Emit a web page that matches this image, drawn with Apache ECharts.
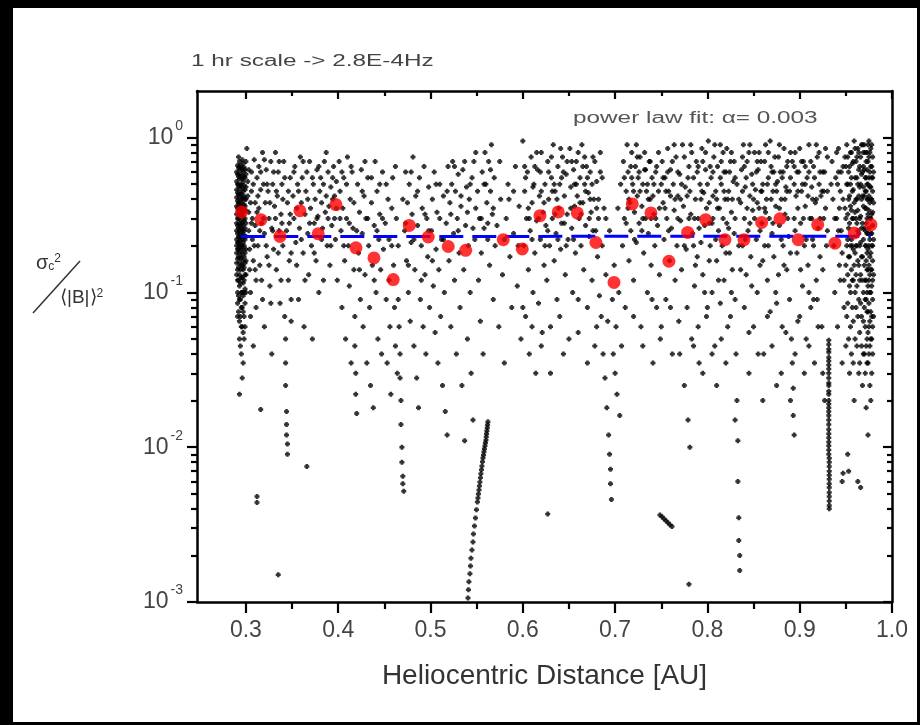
<!DOCTYPE html>
<html><head><meta charset="utf-8">
<script src="https://cdn.jsdelivr.net/npm/echarts@6/dist/echarts.min.js"></script>
<style>html,body{margin:0;padding:0;background:#000;}#c{width:920px;height:725px;}</style>
</head><body><div id="c"></div>
<script>
// ---------- axis ticks / labels ----------
const xMajorTicks = [0.3, 0.4, 0.5, 0.6, 0.7, 0.8, 0.9, 1.0];
const xMinorTicks = [0.35, 0.45, 0.55, 0.65, 0.75, 0.85, 0.95];
const yMajorTicks = [0.001, 0.01, 0.1, 1];
const yMinorTicks = [0.002,0.003,0.004,0.005,0.006,0.007,0.008,0.009,
                     0.02,0.03,0.04,0.05,0.06,0.07,0.08,0.09,
                     0.2,0.3,0.4,0.5,0.6,0.7,0.8,0.9];

// ---------- binned means (red) ----------
const binX = [0.2953,0.3163,0.3368,0.3585,0.3783,0.3975,0.4192,0.4387,0.4596,0.4770,0.4975,0.5192,0.5381,
              0.5788,0.5994,0.6186,0.6384,0.6590,0.6792,0.6988,0.7186,0.7388,0.7583,0.7786,0.7981,0.8190,
              0.8396,0.8588,0.8786,0.8984,0.9195,0.9382,0.9591,0.9772];
const binMean = [0.331,0.295,0.230,0.337,0.239,0.369,0.194,0.167,0.121,0.271,0.228,0.198,0.187,
                 0.219,0.191,0.313,0.331,0.326,0.210,0.116,0.373,0.326,0.159,0.244,0.295,0.219,
                 0.219,0.283,0.299,0.219,0.274,0.208,0.242,0.274];

// ---------- power-law fit (blue dashed) ----------
const fitX = [0.295, 0.977];
const fitY = [0.2297, 0.2305];

// ---------- individual samples (black) ----------
const ptsA = [[0.291,0.66],[0.291,0.58],[0.291,0.5],[0.291,0.44],[0.291,0.39],[0.291,0.35],[0.291,0.3],[0.291,0.27],[0.291,0.24],[0.291,0.21],[0.291,0.19],[0.291,0.165],[0.291,0.14],[0.291,0.12],[0.291,0.1],[0.291,0.085],[0.291,0.07],
[0.293,0.7],[0.293,0.62],[0.293,0.54],[0.293,0.47],[0.293,0.41],[0.293,0.37],[0.293,0.32],[0.293,0.28],[0.293,0.25],[0.293,0.225],[0.293,0.2],[0.293,0.18],[0.293,0.155],[0.293,0.13],[0.293,0.11],[0.293,0.09],[0.293,0.065],[0.293,0.05],[0.293,0.022],
[0.295,0.64],[0.295,0.56],[0.295,0.49],[0.295,0.43],[0.295,0.38],[0.295,0.34],[0.295,0.29],[0.295,0.26],[0.295,0.23],[0.295,0.2],[0.295,0.17],[0.295,0.15],[0.295,0.125],[0.295,0.1],[0.295,0.08],[0.295,0.06],[0.295,0.04],
[0.297,0.68],[0.297,0.6],[0.297,0.52],[0.297,0.45],[0.297,0.4],[0.297,0.35],[0.297,0.31],[0.297,0.27],[0.297,0.24],[0.297,0.21],[0.297,0.19],[0.297,0.16],[0.297,0.14],[0.297,0.115],[0.297,0.095],[0.297,0.075],[0.297,0.055],[0.297,0.035],
[0.299,0.62],[0.299,0.55],[0.299,0.46],[0.299,0.4],[0.299,0.36],[0.299,0.3],[0.299,0.26],[0.299,0.22],[0.299,0.18],[0.299,0.155],[0.299,0.13],[0.299,0.105],[0.299,0.085],[0.299,0.06]];

const ptsA2 = [[0.290,0.6],[0.290,0.52],[0.290,0.46],[0.290,0.41],[0.290,0.36],[0.290,0.32],[0.290,0.28],[0.290,0.25],[0.290,0.22],[0.290,0.2],[0.290,0.18],[0.290,0.155],[0.290,0.13],
[0.292,0.75],[0.292,0.64],[0.292,0.56],[0.292,0.49],[0.292,0.43],[0.292,0.38],[0.292,0.34],[0.292,0.3],[0.292,0.26],[0.292,0.23],[0.292,0.21],[0.292,0.19],[0.292,0.17],[0.292,0.145],[0.292,0.12],[0.292,0.095],[0.292,0.075],
[0.294,0.66],[0.294,0.58],[0.294,0.5],[0.294,0.44],[0.294,0.39],[0.294,0.35],[0.294,0.31],[0.294,0.27],[0.294,0.24],[0.294,0.215],[0.294,0.19],[0.294,0.165],[0.294,0.14],[0.294,0.115],[0.294,0.09],[0.294,0.07],[0.294,0.045],
[0.296,0.72],[0.296,0.62],[0.296,0.54],[0.296,0.47],[0.296,0.41],[0.296,0.36],[0.296,0.32],[0.296,0.28],[0.296,0.25],[0.296,0.22],[0.296,0.2],[0.296,0.18],[0.296,0.15],[0.296,0.125],[0.296,0.1],[0.296,0.08],[0.296,0.06],[0.296,0.028],
[0.298,0.64],[0.298,0.56],[0.298,0.49],[0.298,0.42],[0.298,0.37],[0.298,0.33],[0.298,0.29],[0.298,0.25],[0.298,0.23],[0.298,0.2],[0.298,0.17],[0.298,0.145],[0.298,0.12],[0.298,0.1],[0.298,0.07],[0.298,0.05],
[0.300,0.7],[0.300,0.58],[0.300,0.48],[0.300,0.4],[0.300,0.34],[0.300,0.28],[0.300,0.23],[0.300,0.19],[0.300,0.16],[0.300,0.13],[0.300,0.1]];

const ptsB = [[0.301,0.85],[0.302,0.52],[0.302,0.42],[0.303,0.33],[0.303,0.25],[0.304,0.19],[0.304,0.14],[0.305,0.1],[0.305,0.07],[0.306,0.6],[0.306,0.45],[0.307,0.3],[0.307,0.22],[0.308,0.16],[0.308,0.045],[0.309,0.72],[0.31,0.38],[0.31,0.27],[0.311,0.12],[0.311,0.08],[0.312,0.55],[0.312,0.0048],[0.312,0.0044],[0.313,0.2],[0.314,0.35],[0.314,0.65],[0.315,0.15],[0.316,0.46],[0.316,0.0175],[0.317,0.28],[0.318,0.8],[0.318,0.09],[0.319,0.5],[0.32,0.24],[0.32,0.06],[0.321,0.38],[0.322,0.62],[0.323,0.17],[0.324,0.45],[0.325,0.3],[0.326,0.11],[0.327,0.7],[0.328,0.26],[0.328,0.04],[0.329,0.5],[0.33,0.19],[0.331,0.36],[0.332,0.8],[0.333,0.14],[0.334,0.42],[0.335,0.0015],[0.335,0.6],[0.336,0.25],[0.337,0.085],[0.338,0.32],[0.339,0.5],[0.34,0.2],[0.341,0.7],[0.342,0.07],[0.343,0.05],[0.343,0.035],[0.343,0.025],[0.344,0.017],[0.344,0.014],[0.344,0.012],[0.345,0.0105],[0.345,0.009],[0.345,0.38],[0.346,0.12],[0.347,0.28],[0.348,0.55],[0.349,0.18],[0.349,0.065]];

const ptsB2 = [[0.303,0.62],[0.305,0.38],[0.306,0.28],[0.308,0.5],[0.309,0.2],[0.31,0.14],[0.312,0.33],[0.313,0.42],[0.315,0.25],[0.316,0.6],[0.317,0.12],[0.319,0.3],[0.32,0.72],[0.322,0.2],[0.323,0.5],[0.325,0.15],[0.326,0.38],[0.327,0.085],[0.329,0.25],[0.33,0.6],[0.332,0.3],[0.333,0.45],[0.335,0.18],[0.336,0.7],[0.338,0.12],[0.339,0.28],[0.34,0.4],[0.342,0.55],[0.344,0.25],[0.346,0.45],[0.347,0.16],[0.348,0.32],[0.349,0.09]];

const ptsC = [[0.351,0.42],[0.352,0.3],[0.353,0.65],[0.354,0.21],[0.355,0.15],[0.356,0.5],[0.357,0.09],[0.358,0.26],[0.359,0.75],[0.36,0.38],[0.361,0.55],[0.362,0.18],[0.363,0.06],[0.364,0.32],[0.365,0.45],[0.366,0.0075],[0.366,0.6],[0.367,0.24],[0.368,0.13],[0.369,0.7],[0.37,0.35],[0.371,0.2],[0.372,0.05],[0.373,0.5],[0.374,0.28],[0.375,0.4],[0.376,0.16],[0.377,0.62],[0.378,0.31],[0.379,0.1],[0.38,0.45],[0.381,0.55],[0.382,0.38],[0.383,0.26],[0.384,0.5],[0.385,0.7],[0.386,0.33],[0.387,0.42],[0.388,0.2],[0.389,0.6],[0.39,0.36],[0.391,0.15],[0.392,0.48],[0.393,0.27],[0.394,0.4],[0.395,0.65],[0.396,0.3],[0.397,0.22],[0.398,0.52],[0.399,0.12],
[0.401,0.7],[0.402,0.45],[0.403,0.25],[0.404,0.08],[0.405,0.35],[0.406,0.55],[0.407,0.16],[0.408,0.05],[0.409,0.3],[0.41,0.75],[0.411,0.2],[0.412,0.11],[0.413,0.4],[0.414,0.035],[0.415,0.6],[0.416,0.26],[0.417,0.14],[0.418,0.07],[0.418,0.045],[0.419,0.03],[0.419,0.022],[0.42,0.0165],[0.421,0.5],[0.422,0.18],[0.423,0.33],[0.424,0.09],[0.425,0.62],[0.426,0.24],[0.427,0.06],[0.428,0.42],[0.429,0.13],[0.43,0.3],[0.431,0.035],[0.432,0.55],[0.433,0.2],[0.434,0.08],[0.435,0.025],[0.436,0.38],[0.437,0.15],[0.438,0.018],[0.439,0.27],[0.44,0.7],[0.441,0.1],[0.442,0.45],[0.443,0.05],[0.444,0.22],[0.445,0.32],[0.446,0.14],[0.447,0.04],[0.448,0.6],[0.449,0.19]];

const ptsD = [[0.451,0.28],[0.452,0.09],[0.453,0.035],[0.454,0.4],[0.455,0.12],[0.456,0.06],[0.457,0.022],[0.458,0.2],[0.459,0.55],[0.46,0.15],[0.461,0.08],[0.462,0.045],[0.463,0.3],[0.464,0.03],[0.465,0.09],[0.466,0.06],[0.467,0.04],[0.467,0.028],[0.468,0.02],[0.468,0.014],[0.469,0.01],[0.469,0.008],[0.47,0.0065],[0.47,0.0058],[0.471,0.0052],[0.472,0.25],[0.473,0.6],[0.474,0.16],[0.475,0.38],[0.476,0.1],[0.477,0.5],[0.478,0.065],[0.479,0.21],[0.48,0.32],[0.481,0.75],[0.482,0.045],[0.483,0.14],[0.484,0.42],[0.485,0.028],[0.486,0.27],[0.487,0.018],[0.488,0.55],[0.489,0.09],[0.49,0.2],[0.491,0.35],[0.492,0.06],[0.493,0.65],[0.494,0.13],[0.495,0.04],[0.496,0.3],[0.497,0.17],[0.498,0.48],[0.499,0.08],
[0.501,0.25],[0.502,0.4],[0.503,0.11],[0.504,0.6],[0.505,0.055],[0.506,0.19],[0.507,0.33],[0.508,0.035],[0.509,0.14],[0.51,0.5],[0.511,0.07],[0.512,0.22],[0.513,0.025],[0.514,0.42],[0.515,0.1],[0.516,0.017],[0.517,0.28],[0.518,0.012],[0.519,0.65],[0.52,0.16],[0.521,0.38],[0.522,0.06],[0.523,0.5],[0.524,0.7],[0.525,0.24],[0.526,0.12],[0.527,0.45],[0.528,0.04],[0.529,0.3],[0.53,0.58],[0.531,0.18],[0.532,0.08],[0.533,0.36],[0.534,0.025],[0.535,0.62],[0.536,0.14],[0.537,0.011],[0.538,0.27],[0.539,0.48],[0.54,0.05],[0.541,0.2],[0.542,0.4],[0.543,0.1],[0.544,0.03],[0.545,0.55],[0.546,0.015],[0.547,0.7],[0.548,0.22],[0.549,0.35]];

const ptsCurve = [[0.5406,0.00106],[0.5411,0.0012],[0.5416,0.00135],[0.5427,0.00152],[0.5433,0.00171],[0.5438,0.00192],[0.5449,0.00217],[0.546,0.00244],[0.5465,0.00275],[0.5476,0.0031],[0.5487,0.00349],[0.5498,0.00394],[0.5508,0.00443],[0.5514,0.0047],[0.5519,0.00499],[0.5525,0.0053],[0.553,0.00562],[0.5535,0.00597],[0.5541,0.00634],[0.5546,0.00673],[0.5552,0.00714],[0.5557,0.00757],[0.5563,0.00804],[0.5568,0.00853],[0.5574,0.00892],[0.5579,0.00933],[0.5584,0.00976],[0.559,0.0102],[0.5595,0.01067],[0.5601,0.01115],[0.5604,0.01166],[0.5607,0.0122],[0.5611,0.01276],[0.5615,0.01334],[0.5618,0.01394],[0.5622,0.01458]];

const ptsE = [[0.551,0.45],[0.552,0.12],[0.553,0.3],[0.554,0.065],[0.555,0.18],[0.556,0.6],[0.557,0.04],[0.558,0.26],[0.559,0.8],[0.56,0.5],[0.561,0.38],[0.562,0.22],[0.563,0.7],[0.564,0.15],[0.565,0.45],[0.566,0.9],[0.567,0.32],[0.568,0.09],[0.569,0.55],[0.57,0.2],[0.572,0.27],[0.574,0.06],[0.576,0.4],[0.578,0.13],[0.58,0.035],[0.582,0.3],[0.584,0.5],[0.586,0.17],[0.588,0.08],[0.59,0.24],[0.592,0.65],[0.594,0.11],[0.596,0.36],[0.598,0.05],[0.6,0.95],[0.601,0.2],[0.602,0.45],[0.603,0.07],[0.604,0.3],[0.605,0.6],[0.606,0.14],[0.607,0.04],[0.608,0.25],[0.609,0.75],[0.61,0.38],[0.611,0.1],[0.612,0.5],[0.613,0.18],[0.614,0.03],[0.615,0.29],[0.616,0.62],[0.617,0.085],[0.618,0.42],[0.619,0.22],[0.62,0.8],[0.621,0.055],[0.622,0.33],[0.623,0.15],[0.624,0.5],[0.625,0.27],[0.626,0.12],[0.627,0.0037],[0.627,0.7],[0.628,0.4],[0.629,0.2],[0.63,0.06],[0.631,0.55],[0.632,0.3],[0.633,0.9],[0.634,0.16],[0.635,0.45],[0.636,0.24],[0.637,0.09],[0.638,0.65],[0.639,0.35],[0.64,0.5],[0.641,0.19],[0.642,0.28],[0.643,0.75],[0.644,0.04],[0.645,0.42],[0.646,0.13],[0.647,0.58],[0.648,0.32],[0.649,0.22]];

const ptsF = [[0.651,0.85],[0.652,0.48],[0.653,0.26],[0.654,0.1],[0.655,0.62],[0.656,0.36],[0.657,0.18],[0.658,0.7],[0.659,0.42],[0.66,0.055],[0.661,0.3],[0.662,0.55],[0.663,0.2],[0.664,0.9],[0.665,0.38],[0.666,0.14],[0.667,0.5],[0.668,0.27],[0.669,0.65],[0.67,0.08],[0.671,0.44],[0.672,0.23],[0.673,0.6],[0.674,0.33],[0.675,0.12],[0.676,0.75],[0.677,0.4],[0.678,0.045],[0.679,0.25],[0.68,0.52],[0.681,0.17],[0.682,0.3],[0.683,0.095],[0.684,0.6],[0.685,0.07],[0.686,0.2],[0.687,0.04],[0.688,0.35],[0.689,0.028],[0.69,0.13],[0.691,0.018],[0.692,0.065],[0.693,0.012],[0.694,0.25],[0.694,0.009],[0.695,0.0072],[0.695,0.0058],[0.696,0.0046],[0.697,0.09],[0.698,0.04],[0.699,0.15],[0.7,0.03],[0.701,0.06],[0.702,0.022],[0.703,0.35],[0.704,0.1],[0.705,0.016],[0.706,0.5],[0.707,0.045],[0.708,0.2],[0.709,0.7],[0.71,0.3],[0.711,0.08],[0.712,0.45],[0.713,0.9],[0.714,0.6],[0.715,0.16],[0.716,0.38],[0.717,0.25],[0.718,0.8],[0.719,0.5],[0.72,0.12],[0.721,0.33],[0.722,0.65],[0.723,0.21],[0.724,0.42],[0.725,0.55],[0.726,0.28],[0.727,0.75],[0.728,0.06],[0.729,0.36],[0.73,0.5],[0.731,0.18],[0.732,0.62],[0.733,0.3],[0.734,0.45],[0.735,0.1],[0.736,0.24],[0.737,0.7],[0.738,0.4],[0.739,0.15],[0.74,0.55],[0.741,0.035],[0.742,0.32],[0.743,0.2],[0.744,0.6],[0.745,0.08],[0.746,0.27],[0.747,0.45],[0.748,0.13],[0.749,0.05]];

const ptsM2 = [[0.352,0.6],[0.355,0.35],[0.357,0.45],[0.36,0.22],[0.362,0.7],[0.364,0.12],[0.367,0.4],[0.369,0.28],[0.372,0.55],[0.374,0.18],[0.377,0.3],[0.379,0.65],[0.382,0.22],[0.384,0.12],[0.387,0.8],[0.389,0.3],[0.392,0.2],[0.394,0.55],[0.396,0.42],[0.398,0.35],[0.402,0.3],[0.404,0.6],[0.406,0.2],[0.409,0.5],[0.412,0.28],[0.414,0.65],[0.417,0.38],[0.42,0.25],[0.423,0.14],[0.426,0.45],[0.429,0.7],[0.432,0.3],[0.436,0.55],[0.439,0.12],[0.442,0.25],[0.445,0.5],[0.448,0.3],
[0.452,0.5],[0.455,0.22],[0.458,0.35],[0.462,0.65],[0.465,0.2],[0.47,0.4],[0.473,0.28],[0.476,0.15],[0.479,0.6],[0.482,0.22],[0.486,0.45],[0.49,0.12],[0.494,0.32],[0.498,0.25],[0.502,0.16],[0.506,0.5],[0.51,0.3],[0.514,0.22],[0.518,0.45],[0.522,0.32],[0.526,0.65],[0.53,0.25],[0.533,0.42],[0.537,0.7],[0.54,0.33],[0.543,0.5],[0.546,0.26],[0.549,0.8],
[0.555,0.3],[0.558,0.5],[0.562,0.28],[0.565,0.62],[0.568,0.35],[0.575,0.7],[0.58,0.22],[0.585,0.4],[0.59,0.45],[0.595,0.2],[0.603,0.55],[0.606,0.35],[0.61,0.22],[0.613,0.65],[0.617,0.3],[0.62,0.45],[0.624,0.2],[0.628,0.6],[0.632,0.45],[0.635,0.32],[0.638,0.22],[0.642,0.55],[0.645,0.28],[0.648,0.7],
[0.652,0.35],[0.655,0.22],[0.658,0.5],[0.662,0.38],[0.665,0.65],[0.668,0.45],[0.672,0.3],[0.675,0.5],[0.678,0.7],[0.682,0.4],[0.686,0.55],[0.69,0.3],[0.712,0.28],[0.715,0.4],[0.718,0.55],[0.721,0.22],[0.724,0.75],[0.727,0.45],[0.73,0.3],[0.733,0.62],[0.736,0.4],[0.739,0.3],[0.742,0.5],[0.745,0.65],[0.748,0.35],
[0.752,0.55],[0.755,0.45],[0.758,0.25],[0.762,0.7],[0.765,0.4],[0.768,0.3],[0.772,0.5],[0.775,0.2],[0.778,0.42],[0.78,0.3]];

const ptsChain = [[0.7486,0.00365],[0.7508,0.00355],[0.7529,0.00345],[0.7551,0.00335],[0.7573,0.00325],[0.7594,0.00316],[0.7616,0.00307]];

const ptsG = [[0.751,0.7],[0.752,0.38],[0.753,0.22],[0.754,0.55],[0.755,0.09],[0.756,0.3],[0.757,0.85],[0.758,0.45],[0.759,0.16],[0.76,0.62],[0.761,0.26],[0.762,0.04],[0.763,0.5],[0.764,0.34],[0.765,0.12],[0.766,0.75],[0.767,0.2],[0.768,0.42],[0.769,0.065],[0.77,0.58],[0.771,0.29],[0.772,0.14],[0.773,0.9],[0.774,0.36],[0.775,0.025],[0.776,0.48],[0.777,0.19],[0.778,0.08],[0.779,0.015],[0.78,0.0013],[0.78,0.65],[0.781,0.01],[0.782,0.32],[0.783,0.05],[0.784,0.24],[0.785,0.55],[0.786,0.11],[0.787,0.4],[0.788,0.7],[0.789,0.17],[0.79,0.3],[0.791,0.035],[0.792,0.5],[0.793,0.21],[0.794,0.85],[0.795,0.13],[0.796,0.44],[0.797,0.27],[0.798,0.62],[0.799,0.07],
[0.801,0.95],[0.802,0.38],[0.803,0.2],[0.804,0.55],[0.805,0.1],[0.806,0.3],[0.807,0.75],[0.808,0.045],[0.809,0.45],[0.81,0.16],[0.811,0.65],[0.812,0.25],[0.813,0.35],[0.814,0.085],[0.815,0.5],[0.816,0.2],[0.817,0.8],[0.818,0.12],[0.819,0.4],[0.82,0.6],[0.821,0.28],[0.822,0.06],[0.823,0.45],[0.824,0.18],[0.825,0.7],[0.826,0.33],[0.827,0.14],[0.828,0.52],[0.829,0.24],[0.83,0.09],[0.831,0.04],[0.832,0.02],[0.833,0.011],[0.833,0.006],[0.834,0.0035],[0.834,0.0025],[0.835,0.002],[0.835,0.0016],[0.836,0.38],[0.837,0.62],[0.838,0.2],[0.839,0.9],[0.84,0.3],[0.841,0.48],[0.842,0.13],[0.843,0.7],[0.844,0.25],[0.845,0.055],[0.846,0.42],[0.847,0.17],[0.848,0.58],[0.849,0.34]];

const ptsG2 = [[0.781,0.45],[0.783,0.8],[0.785,0.2],[0.787,0.15],[0.789,0.6],[0.791,0.26],[0.793,0.4],[0.795,0.7],[0.797,0.1],[0.799,0.35],[0.8,0.5],[0.802,0.16],[0.803,0.65],[0.805,0.28],[0.806,0.42],[0.808,0.9],[0.809,0.22],[0.811,0.35],[0.812,0.12],[0.814,0.55],[0.815,0.7],[0.817,0.3],[0.818,0.45],[0.82,0.18],[0.821,0.85],[0.823,0.26],[0.824,0.6],[0.826,0.1],[0.827,0.4],[0.829,0.7],[0.83,0.3],[0.832,0.5],[0.834,0.2],[0.836,0.14],[0.838,0.45],[0.84,0.65],[0.841,0.22],[0.843,0.35],[0.845,0.8],[0.846,0.28],[0.848,0.11],[0.849,0.5]];

const ptsH = [[0.851,0.8],[0.852,0.46],[0.853,0.22],[0.854,0.1],[0.855,0.62],[0.856,0.35],[0.857,0.15],[0.858,0.7],[0.859,0.28],[0.86,0.5],[0.861,0.04],[0.862,0.2],[0.863,0.9],[0.864,0.4],[0.865,0.12],[0.866,0.55],[0.867,0.3],[0.868,0.075],[0.869,0.65],[0.87,0.24],[0.871,0.45],[0.872,0.17],[0.873,0.75],[0.874,0.36],[0.875,0.025],[0.876,0.52],[0.877,0.13],[0.878,0.27],[0.879,0.6],[0.88,0.4],[0.881,0.06],[0.882,0.2],[0.883,0.85],[0.884,0.32],[0.885,0.48],[0.886,0.14],[0.887,0.7],[0.888,0.23],[0.889,0.09],[0.89,0.55],[0.891,0.05],[0.892,0.035],[0.893,0.024],[0.893,0.016],[0.894,0.012],[0.894,0.3],[0.895,0.8],[0.896,0.42],[0.897,0.18],[0.898,0.065],[0.899,0.6],
[0.901,0.28],[0.902,0.45],[0.903,0.11],[0.904,0.7],[0.905,0.2],[0.906,0.36],[0.907,0.05],[0.908,0.55],[0.909,0.15],[0.91,0.9],[0.911,0.3],[0.912,0.08],[0.913,0.48],[0.914,0.22],[0.915,0.65],[0.916,0.035],[0.917,0.38],[0.918,0.12],[0.919,0.75],[0.92,0.26],[0.921,0.5],[0.922,0.17],[0.923,0.42],[0.924,0.06],[0.925,0.6],[0.926,0.3],[0.927,0.02],[0.928,0.85],[0.929,0.2],[0.93,0.45]];

const ptsH2 = [[0.851,0.3],[0.853,0.6],[0.854,0.38],[0.856,0.8],[0.857,0.25],[0.859,0.45],[0.86,0.16],[0.862,0.7],[0.863,0.33],[0.865,0.5],[0.866,0.2],[0.868,0.95],[0.869,0.4],[0.871,0.28],[0.872,0.6],[0.874,0.1],[0.875,0.45],[0.877,0.75],[0.878,0.35],[0.88,0.22],[0.881,0.55],[0.883,0.15],[0.884,0.4],[0.886,0.65],[0.887,0.3],[0.889,0.45],[0.89,0.18],[0.892,0.7],[0.894,0.5],[0.895,0.25],[0.897,0.6],[0.898,0.35],[0.9,0.85],[0.901,0.14],[0.903,0.5],[0.904,0.3],[0.906,0.65],[0.907,0.22],[0.909,0.42],[0.91,0.1],[0.912,0.7],[0.913,0.3],[0.915,0.2],[0.916,0.55],[0.918,0.4],[0.919,0.09],[0.921,0.8],[0.922,0.3],[0.924,0.45],[0.925,0.14],[0.927,0.6],[0.928,0.35],[0.93,0.25]];

const ptsLow = [[0.785,0.045],[0.79,0.06],[0.795,0.03],[0.8,0.08],[0.805,0.04],[0.81,0.025],[0.815,0.05],[0.82,0.035],[0.825,0.07],[0.83,0.015],[0.84,0.08],[0.845,0.03],[0.85,0.06],[0.855,0.04],[0.86,0.02],[0.865,0.07],[0.87,0.045],[0.875,0.085],[0.88,0.03],[0.885,0.055],[0.89,0.02],[0.895,0.04],[0.9,0.07],[0.905,0.03],[0.91,0.045],[0.915,0.09],[0.92,0.06],[0.925,0.03],[0.6,0.08],[0.61,0.06],[0.62,0.045],[0.63,0.03],[0.64,0.07],[0.65,0.05],[0.66,0.09],[0.67,0.035],[0.68,0.06],[0.72,0.07],[0.73,0.045],[0.74,0.09],[0.75,0.06],[0.76,0.08],[0.77,0.04]];

const ptsTop = [[0.602,0.65],[0.607,0.3],[0.611,0.48],[0.615,0.8],[0.619,0.6],[0.623,0.38],[0.627,0.25],[0.631,0.75],[0.634,0.5],[0.637,0.4],[0.641,0.85],[0.644,0.6],[0.647,0.2],[0.653,0.7],[0.656,0.5],[0.66,0.8],[0.663,0.32],[0.667,0.75],[0.67,0.55],[0.673,0.4],[0.676,0.25],[0.68,0.35],[0.684,0.8],[0.71,0.55],[0.714,0.35],[0.717,0.65],[0.72,0.45],[0.723,0.9],[0.726,0.6],[0.729,0.25],[0.732,0.8],[0.735,0.5],[0.738,0.7],[0.741,0.42],[0.744,0.3],[0.747,0.8],[0.75,0.5],[0.754,0.35],[0.757,0.6],[0.76,0.42],[0.764,0.9],[0.768,0.6],[0.771,0.4],[0.775,0.75],[0.779,0.55],[0.782,0.9],[0.786,0.3],[0.79,0.65],[0.794,0.45],[0.798,0.8],[0.802,0.28],[0.806,0.6],[0.81,0.4],[0.814,0.9],[0.818,0.6],[0.822,0.4],[0.826,0.8],[0.83,0.55],[0.834,0.4],[0.838,0.75],[0.842,0.55],[0.846,0.9],[0.85,0.4],[0.854,0.7],[0.858,0.45],[0.862,0.35],[0.866,0.8],[0.87,0.6],[0.874,0.5],[0.878,0.9],[0.882,0.6],[0.886,0.45],[0.89,0.8],[0.894,0.65],[0.898,0.45],[0.902,0.7],[0.906,0.5],[0.91,0.6],[0.914,0.4],[0.918,0.9],[0.922,0.6],[0.926,0.45],[0.93,0.75],[0.934,0.5],[0.938,0.3],[0.942,0.6]];

const ptsLine = [[0.9315,0.049],[0.9315,0.046],[0.9315,0.043],[0.9315,0.041],[0.9315,0.038],[0.9315,0.036],[0.9315,0.034],[0.9315,0.032],[0.9315,0.03],[0.9315,0.028],[0.9315,0.026],[0.9315,0.025],[0.9315,0.023],[0.9315,0.022],[0.9315,0.02],[0.9315,0.019],[0.9315,0.018],[0.9315,0.017],[0.9315,0.016],[0.9315,0.015],[0.9315,0.014],[0.9315,0.013],[0.9315,0.0122],[0.9315,0.0115],[0.9315,0.0108],[0.9315,0.0102],[0.9315,0.0096],[0.9315,0.009],[0.932,0.0085],[0.932,0.008],[0.932,0.0075],[0.932,0.007],[0.932,0.0066],[0.932,0.0062],[0.932,0.0058],[0.932,0.0055],[0.932,0.0051],[0.932,0.0048],[0.932,0.0045],[0.932,0.0042],[0.932,0.004]];

const ptsI = [[0.935,0.7],[0.936,0.4],[0.937,0.2],[0.938,0.1],[0.939,0.55],[0.94,0.3],[0.941,0.06],[0.942,0.85],[0.943,0.15],[0.944,0.45],[0.945,0.25],[0.946,0.035],[0.947,0.65],[0.948,0.12],[0.949,0.35],
[0.951,0.9],[0.951,0.5],[0.951,0.2],[0.951,0.07],[0.952,0.75],[0.952,0.32],[0.952,0.13],[0.952,0.009],[0.953,0.6],[0.953,0.26],[0.953,0.05],[0.953,0.007],[0.954,0.42],[0.954,0.17],[0.954,0.03],[0.955,0.8],[0.955,0.36],[0.955,0.1],[0.956,0.55],[0.956,0.22],[0.956,0.04],[0.957,0.68],[0.957,0.3],[0.957,0.12],[0.958,0.46],[0.958,0.19],[0.958,0.065],[0.959,0.95],[0.959,0.38],[0.959,0.15],[0.959,0.02],
[0.961,0.7],[0.961,0.4],[0.961,0.2],[0.961,0.08],[0.962,0.55],[0.962,0.28],[0.962,0.11],[0.962,0.045],[0.963,0.85],[0.963,0.34],[0.963,0.16],[0.963,0.006],[0.964,0.62],[0.964,0.24],[0.964,0.09],[0.964,0.03],[0.965,0.48],[0.965,0.2],[0.965,0.055],[0.966,0.75],[0.966,0.31],[0.966,0.13],[0.966,0.0055],[0.967,0.58],[0.967,0.26],[0.967,0.07],[0.968,0.9],[0.968,0.42],[0.968,0.17],[0.968,0.025],[0.969,0.65],[0.969,0.36],[0.969,0.1],[0.969,0.04],
[0.971,0.8],[0.971,0.55],[0.971,0.35],[0.971,0.2],[0.971,0.12],[0.971,0.06],[0.971,0.03],[0.972,0.7],[0.972,0.45],[0.972,0.28],[0.972,0.16],[0.972,0.09],[0.972,0.045],[0.972,0.018],[0.973,0.62],[0.973,0.4],[0.973,0.24],[0.973,0.14],[0.973,0.075],[0.973,0.035],[0.974,0.9],[0.974,0.5],[0.974,0.32],[0.974,0.19],[0.974,0.11],[0.974,0.055],[0.974,0.012],[0.975,0.75],[0.975,0.42],[0.975,0.26],[0.975,0.15],[0.975,0.085],[0.975,0.04],[0.976,0.6],[0.976,0.38],[0.976,0.22],[0.976,0.13],[0.976,0.065],[0.976,0.025],[0.977,0.85],[0.977,0.48],[0.977,0.3],[0.977,0.18],[0.977,0.1],[0.977,0.05],[0.978,0.65],[0.978,0.4],[0.978,0.24],[0.978,0.14],[0.978,0.07],[0.978,0.03],[0.979,0.55],[0.979,0.33],[0.979,0.2],[0.979,0.12],[0.979,0.06]];

const ptsI2 = [[0.94,0.8],[0.941,0.5],[0.942,0.25],[0.943,0.35],[0.944,0.12],[0.945,0.6],[0.946,0.18],[0.947,0.4],[0.948,0.08],[0.949,0.75],[0.946,0.006],[0.947,0.0068],
[0.950,0.65],[0.950,0.3],[0.950,0.15],[0.950,0.045],[0.952,0.5],[0.952,0.22],[0.952,0.085],[0.953,0.4],[0.953,0.17],[0.954,0.65],[0.954,0.28],[0.954,0.11],[0.955,0.5],[0.955,0.2],[0.955,0.06],[0.956,0.8],[0.956,0.34],[0.956,0.14],[0.957,0.45],[0.957,0.2],[0.957,0.08],[0.958,0.7],[0.958,0.3],[0.958,0.12],[0.958,0.035],
[0.96,0.85],[0.96,0.55],[0.96,0.33],[0.96,0.18],[0.96,0.1],[0.96,0.05],[0.961,0.3],[0.961,0.13],[0.962,0.75],[0.962,0.4],[0.962,0.2],[0.963,0.5],[0.963,0.25],[0.963,0.07],[0.964,0.8],[0.964,0.42],[0.964,0.15],[0.965,0.65],[0.965,0.3],[0.965,0.12],[0.965,0.035],[0.966,0.5],[0.966,0.21],[0.966,0.085],[0.967,0.9],[0.967,0.4],[0.967,0.17],[0.967,0.045],[0.968,0.6],[0.968,0.28],[0.968,0.12],[0.969,0.8],[0.969,0.48],[0.969,0.22],[0.969,0.065],
[0.970,0.9],[0.970,0.62],[0.970,0.42],[0.970,0.26],[0.970,0.15],[0.970,0.08],[0.970,0.04],[0.971,0.45],[0.971,0.25],[0.971,0.09],[0.972,0.55],[0.972,0.35],[0.972,0.2],[0.972,0.12],[0.973,0.8],[0.973,0.5],[0.973,0.3],[0.973,0.18],[0.973,0.1],[0.973,0.05],[0.974,0.7],[0.974,0.4],[0.974,0.24],[0.974,0.14],[0.974,0.075],[0.974,0.035],[0.975,0.95],[0.975,0.55],[0.975,0.34],[0.975,0.2],[0.975,0.12],[0.975,0.06],[0.976,0.8],[0.976,0.48],[0.976,0.3],[0.976,0.17],[0.976,0.1],[0.976,0.045],[0.977,0.65],[0.977,0.4],[0.977,0.24],[0.977,0.14],[0.977,0.075],[0.977,0.02],[0.978,0.9],[0.978,0.55],[0.978,0.32],[0.978,0.2],[0.978,0.11],[0.978,0.05],[0.979,0.75],[0.979,0.45],[0.979,0.27],[0.979,0.16],[0.979,0.09],[0.979,0.04],[0.98,0.6],[0.98,0.38],[0.98,0.22],[0.98,0.13],[0.98,0.07]];

// ---------- build ----------
const FONT = 'Liberation Sans, Arial, sans-serif';
const samples = [].concat(ptsA, ptsA2, ptsB, ptsB2, ptsC, ptsD, ptsM2, ptsCurve, ptsE, ptsF, ptsChain,
                          ptsG, ptsG2, ptsH, ptsH2, ptsLow, ptsTop, ptsLine, ptsI, ptsI2);
const redData = binX.map((x, i) => [x, binMean[i]]);
const fitData = fitX.map((x, i) => [x, fitY[i]]);

const X_MIN = 0.247, X_MAX = 1.0, Y_MIN = 0.001, Y_MAX = 2;
const AX = {color: '#000', width: 2.5};

function xAx(pos, ticks, len, inside, withLine, withLabel) {
  return {
    type: 'value', min: X_MIN, max: X_MAX, position: pos,
    splitLine: {show: false},
    axisLine: {show: withLine, onZero: false, lineStyle: AX},
    axisTick: {show: true, customValues: ticks, length: len, inside: inside, lineStyle: {color: '#000', width: 2.2}},
    axisLabel: withLabel ? {customValues: ticks, formatter: v => v.toFixed(1), fontSize: 23, color: '#444', fontFamily: FONT, margin: 17}
                         : {show: false}
  };
}
function yAx(pos, ticks, len, inside, withLine, withLabel) {
  return {
    type: 'log', logBase: 10, min: Y_MIN, max: Y_MAX, position: pos,
    splitLine: {show: false}, minorTick: {show: false},
    axisLine: {show: withLine, onZero: false, lineStyle: AX},
    axisTick: {show: true, customValues: ticks, length: len, inside: inside, lineStyle: {color: '#000', width: 2.2}},
    axisLabel: withLabel ? {
      customValues: ticks, margin: 14,
      formatter: v => '{b|10}{s|' + Math.round(Math.log10(v)) + '}',
      rich: {
        b: {fontSize: 23, color: '#444', fontFamily: FONT, padding: [7, 0, 7, 0], verticalAlign: 'middle'},
        s: {fontSize: 14, color: '#444', fontFamily: FONT, verticalAlign: 'top', padding: [0, 0, 0, 2]}
      }
    } : {show: false}
  };
}

const xAxes = [
  Object.assign(xAx('bottom', xMajorTicks, 11, false, true, true), {
    name: 'Heliocentric Distance [AU]', nameLocation: 'middle', nameGap: 60,
    nameTextStyle: {fontSize: 28, color: '#333', fontFamily: FONT}
  }),
  xAx('bottom', xMinorTicks, 7, false, false, false),
  xAx('top', xMajorTicks, 8, true, true, false),
  xAx('top', xMinorTicks, 5, true, false, false)
];
const yAxes = [
  yAx('left', yMajorTicks, 10, false, true, true),
  yAx('left', yMinorTicks, 6, false, false, false),
  yAx('right', yMajorTicks, 9, true, true, false),
  yAx('right', yMinorTicks, 5, true, false, false)
];

const chart = echarts.init(document.getElementById('c'), null, {renderer: 'canvas'});
chart.setOption({
  backgroundColor: '#000',
  animation: false,
  grid: {left: 197, right: 28, top: 91, bottom: 123, containLabel: false, outerBoundsMode: 'none'},
  xAxis: xAxes,
  yAxis: yAxes,
  graphic: [
    {type: 'rect', z: -10, silent: true, shape: {x: 13, y: 8, width: 904, height: 714}, style: {fill: '#fff'}},
    {type: 'text', x: 191, y: 54, z: 10, scaleX: 1.52, style: {text: '1 hr scale -> 2.8E-4Hz', fontSize: 16, fill: '#444', fontFamily: FONT}},
    {type: 'text', x: 573, y: 111, z: 10, scaleX: 1.52, style: {text: 'power law fit: α= 0.003', fontSize: 16, fill: '#555', fontFamily: FONT}},
    {type: 'text', x: 36, y: 253, z: 10, style: {
      text: '{a|σ}{c|c}{t|2}', rich: {
        a: {fontSize: 20, fill: '#333', fontFamily: FONT},
        c: {fontSize: 12, fill: '#333', fontFamily: FONT, verticalAlign: 'bottom'},
        t: {fontSize: 12, fill: '#333', fontFamily: FONT, verticalAlign: 'top'}
      }}},
    {type: 'line', z: 10, shape: {x1: 33, y1: 313, x2: 80, y2: 261}, style: {stroke: '#333', lineWidth: 1.5}},
    {type: 'text', x: 60, y: 288, z: 10, style: {
      text: '{a|⟨|B|⟩}{t|2}', rich: {
        a: {fontSize: 19, fill: '#333', fontFamily: FONT},
        t: {fontSize: 12, fill: '#333', fontFamily: FONT, verticalAlign: 'top'}
      }}}
  ],
  series: [
    {type: 'scatter', xAxisIndex: 0, yAxisIndex: 0, data: samples,
     symbol: 'path://M1.5,0H4.5V1.5H6V4.5H4.5V6H1.5V4.5H0V1.5H1.5Z', symbolSize: 5,
     itemStyle: {color: '#000'}, z: 2},
    {type: 'line', xAxisIndex: 0, yAxisIndex: 0, data: fitData, showSymbol: false, symbol: 'none',
     lineStyle: {color: '#0000ff', width: 3, type: [24, 9]}, z: 3},
    {type: 'scatter', xAxisIndex: 0, yAxisIndex: 0, data: redData, symbol: 'circle', symbolSize: 13,
     itemStyle: {color: '#ff0000'}, z: 4}
  ]
});
</script></body></html>
